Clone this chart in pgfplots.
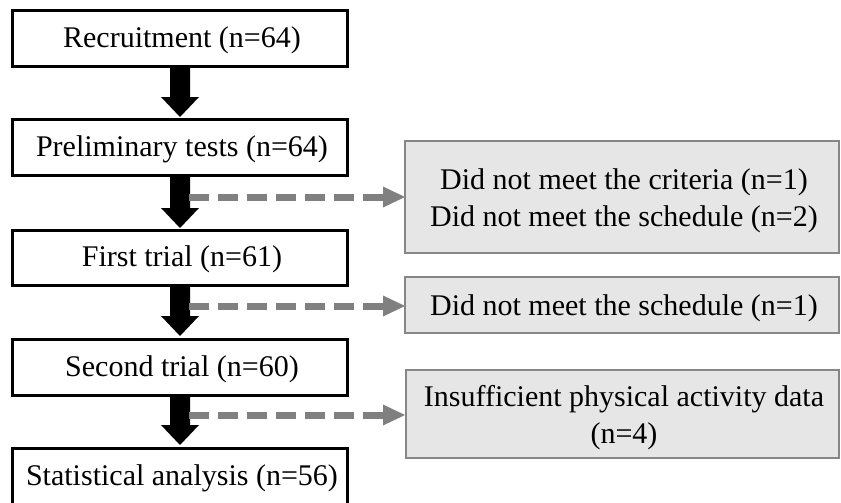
\documentclass[border=0pt]{standalone}
\usepackage{pgfplots}
\pgfplotsset{compat=1.18}
\usepackage{fontspec}
\setmainfont{Liberation Serif}
\definecolor{dgray}{HTML}{808080}
\definecolor{bgray}{HTML}{878787}
\definecolor{fgray}{HTML}{E6E6E6}
\newcommand{\fs}{\fontsize{15}{18.5}\selectfont}
\begin{document}
\begin{tikzpicture}
\begin{axis}[width=420.5pt,height=251.5pt,scale only axis,
  xmin=0,xmax=841,ymin=0,ymax=503,y dir=reverse,hide axis,clip=true]
% black block arrows (shaft 170-190, head 161-199)
\fill[black] (axis cs:170,65) -- (axis cs:190,65) -- (axis cs:190,97) -- (axis cs:199,97) -- (axis cs:180,117) -- (axis cs:161,97) -- (axis cs:170,97) -- cycle;
\fill[black] (axis cs:170,174) -- (axis cs:190,174) -- (axis cs:190,208) -- (axis cs:199,208) -- (axis cs:180,228) -- (axis cs:161,208) -- (axis cs:170,208) -- cycle;
\fill[black] (axis cs:170,284) -- (axis cs:190,284) -- (axis cs:190,316) -- (axis cs:199,316) -- (axis cs:180,336) -- (axis cs:161,316) -- (axis cs:170,316) -- cycle;
\fill[black] (axis cs:170,394) -- (axis cs:190,394) -- (axis cs:190,425) -- (axis cs:199,425) -- (axis cs:180,445) -- (axis cs:161,425) -- (axis cs:170,425) -- cycle;
% dashed gray arrows
\draw[dgray,line width=3.5pt,dash pattern=on 10pt off 4.5pt] (axis cs:189,197) -- (axis cs:383,197);
\fill[dgray] (axis cs:383,186.5) -- (axis cs:405,197) -- (axis cs:383,207.5) -- cycle;
\draw[dgray,line width=3.5pt,dash pattern=on 10pt off 4.5pt] (axis cs:189,306) -- (axis cs:383,306);
\fill[dgray] (axis cs:383,295.5) -- (axis cs:405,306) -- (axis cs:383,316.5) -- cycle;
\draw[dgray,line width=3.5pt,dash pattern=on 10pt off 4.5pt] (axis cs:189,415) -- (axis cs:383,415);
\fill[dgray] (axis cs:383,404.5) -- (axis cs:405,415) -- (axis cs:383,425.5) -- cycle;
% left boxes
\draw[line width=1.5pt,fill=white] (axis cs:12,10) rectangle (axis cs:347,66);
\draw[line width=1.5pt,fill=white] (axis cs:12,119) rectangle (axis cs:347,175);
\draw[line width=1.5pt,fill=white] (axis cs:12,230) rectangle (axis cs:347,285);
\draw[line width=1.5pt,fill=white] (axis cs:12,339) rectangle (axis cs:347,395);
\draw[line width=1.5pt,fill=white] (axis cs:12,448) rectangle (axis cs:347,510);
\node[font=\fs] at (axis cs:182,40) {Recruitment (n=64)};
\node[font=\fs] at (axis cs:182,149) {Preliminary tests (n=64)};
\node[font=\fs] at (axis cs:182,259.5) {First trial (n=61)};
\node[font=\fs] at (axis cs:182,369) {Second trial (n=60)};
\node[font=\fs] at (axis cs:182,478) {Statistical analysis (n=56)};
% right boxes
\draw[bgray,line width=1.4pt,fill=fgray] (axis cs:405,141) rectangle (axis cs:839,253);
\draw[bgray,line width=1.4pt,fill=fgray] (axis cs:405,277) rectangle (axis cs:839,333);
\draw[bgray,line width=1.4pt,fill=fgray] (axis cs:406,370) rectangle (axis cs:839,458);
\node[font=\fs,align=center] at (axis cs:624,201) {Did not meet the criteria (n=1)\\Did not meet the schedule (n=2)};
\node[font=\fs] at (axis cs:624,308) {Did not meet the schedule (n=1)};
\node[font=\fs,align=center] at (axis cs:624,418) {Insufficient physical activity data\\(n=4)};
\end{axis}
\pgfresetboundingbox
\useasboundingbox (current axis.south west) rectangle (current axis.north east);
\end{tikzpicture}
\end{document}
